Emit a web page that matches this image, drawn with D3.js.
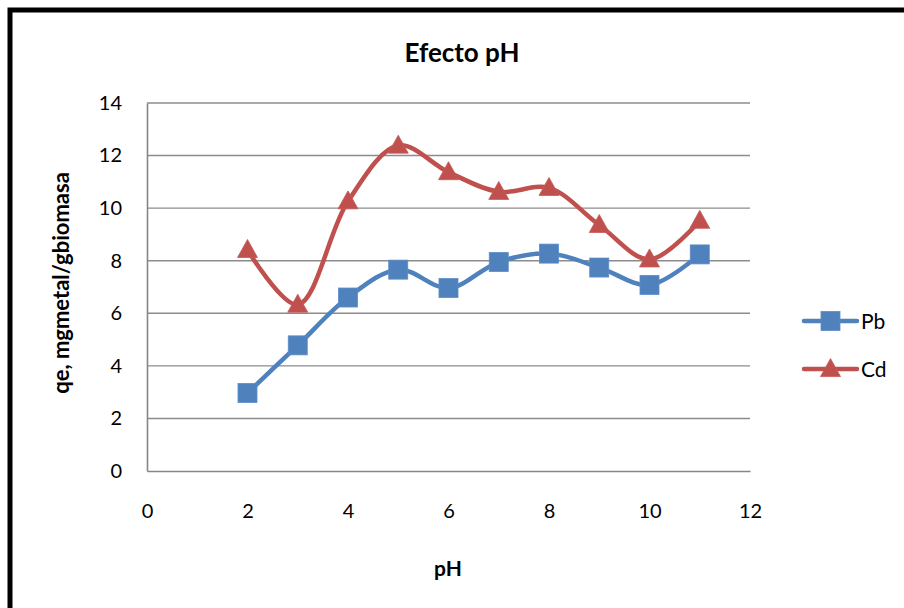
<!DOCTYPE html>
<html>
<head>
<meta charset="utf-8">
<script src="https://cdn.jsdelivr.net/npm/d3@7/dist/d3.min.js"></script>
<style>
  html, body { margin: 0; padding: 0; background: #fff; }
  svg { display: block; }
  text { font-family: Lato, "Open Sans", sans-serif; fill: #000; }
</style>
</head>
<body>
<svg id="chart" width="904" height="608"></svg>
<script>
// pH values tested
const phValues = [2, 3, 4, 5, 6, 7, 8, 9, 10, 11];
// Adsorption capacity qe (mg metal / g biomass)
const pbValues = [2.97, 4.78, 6.60, 7.66, 6.96, 7.95, 8.27, 7.74, 7.08, 8.24];
const cdValues = [8.41, 6.33, 10.26, 12.38, 11.37, 10.62, 10.77, 9.36, 8.05, 9.52];
// Axis ticks
const xTicks = [0, 2, 4, 6, 8, 10, 12];
const yTicks = [0, 2, 4, 6, 8, 10, 12, 14];

const series = [
  { name: "Pb", values: pbValues, color: "#4F81BD", marker: "square" },
  { name: "Cd", values: cdValues, color: "#C0504D", marker: "triangle" }
];

const svg = d3.select("#chart");
const plot = { left: 147, right: 750, top: 103, bottom: 471 };

const x = d3.scaleLinear().domain([0, 12]).range([plot.left, plot.right]);
const y = d3.scaleLinear().domain([0, 14]).range([plot.bottom, plot.top]);

// Outer frame
svg.append("rect")
  .attr("x", 10).attr("y", 10)
  .attr("width", 920).attr("height", 620)
  .attr("fill", "#fff")
  .attr("stroke", "#000").attr("stroke-width", 5);

// Title
svg.append("text")
  .attr("x", 462).attr("y", 62)
  .attr("text-anchor", "middle")
  .attr("font-size", 26).attr("font-weight", "bold")
  .text("Efecto pH");

// Horizontal gridlines
svg.append("g")
  .selectAll("line")
  .data(yTicks.filter(d => d > 0))
  .join("line")
  .attr("x1", plot.left).attr("x2", plot.right)
  .attr("y1", d => y(d)).attr("y2", d => y(d))
  .attr("stroke", "#8c8c8c").attr("stroke-width", 1.4);

// Y axis
const yAxis = svg.append("g")
  .attr("transform", `translate(${plot.left},0)`)
  .call(d3.axisLeft(y).tickValues(yTicks).tickSize(0).tickPadding(25));
yAxis.select(".domain").attr("stroke", "#868686").attr("stroke-width", 1.6);
yAxis.selectAll("text").attr("font-size", 20).style("font-family", "Lato, sans-serif");

// X axis
const xAxis = svg.append("g")
  .attr("transform", `translate(0,${plot.bottom})`)
  .call(d3.axisBottom(x).tickValues(xTicks).tickSize(0).tickPadding(33));
xAxis.select(".domain").attr("stroke", "#868686").attr("stroke-width", 1.6);
xAxis.selectAll("text").attr("font-size", 20).style("font-family", "Lato, sans-serif");

// Axis titles
svg.append("text")
  .attr("x", 448).attr("y", 576)
  .attr("text-anchor", "middle")
  .attr("font-size", 21).attr("font-weight", "bold")
  .text("pH");

svg.append("text")
  .attr("transform", `translate(69,283) rotate(-90)`)
  .attr("text-anchor", "middle")
  .attr("font-size", 22).attr("font-weight", "bold")
  .text("qe, mgmetal/gbiomasa");

// Smoothed series lines
const line = d3.line()
  .x(d => x(d[0]))
  .y(d => y(d[1]))
  .curve(d3.curveCatmullRom.alpha(0.5));

function drawMarker(g, type, cx, cy, color) {
  if (type === "square") {
    g.append("rect")
      .attr("x", cx - 9.5).attr("y", cy - 9.5)
      .attr("width", 19).attr("height", 19)
      .attr("fill", color).attr("stroke", "#5b8cc8").attr("stroke-width", 0.8);
  } else {
    const s = 20, h = 18;
    g.append("path")
      .attr("d", `M${cx},${cy - h * 0.58} L${cx + s / 2},${cy + h * 0.42} L${cx - s / 2},${cy + h * 0.42} Z`)
      .attr("fill", color).attr("stroke", "#c65a57").attr("stroke-width", 0.8);
  }
}

series.forEach(s => {
  const pts = phValues.map((p, i) => [p, s.values[i]]);
  const g = svg.append("g");
  g.append("path")
    .attr("d", line(pts))
    .attr("fill", "none")
    .attr("stroke", s.color)
    .attr("stroke-width", 4.5)
    .attr("stroke-linejoin", "round");
  pts.forEach(p => drawMarker(g, s.marker, x(p[0]), y(p[1]), s.color));
});

// Legend
const legend = svg.append("g");
series.forEach((s, i) => {
  const ly = 321 + i * 48;
  legend.append("line")
    .attr("x1", 804).attr("x2", 857)
    .attr("y1", ly).attr("y2", ly)
    .attr("stroke", s.color).attr("stroke-width", 4.5)
    .attr("stroke-linecap", "round");
  drawMarker(legend, s.marker, 830.5, ly, s.color);
  legend.append("text")
    .attr("x", 861).attr("y", ly + 8)
    .attr("font-size", 21)
    .text(s.name);
});
</script>
</body>
</html>
